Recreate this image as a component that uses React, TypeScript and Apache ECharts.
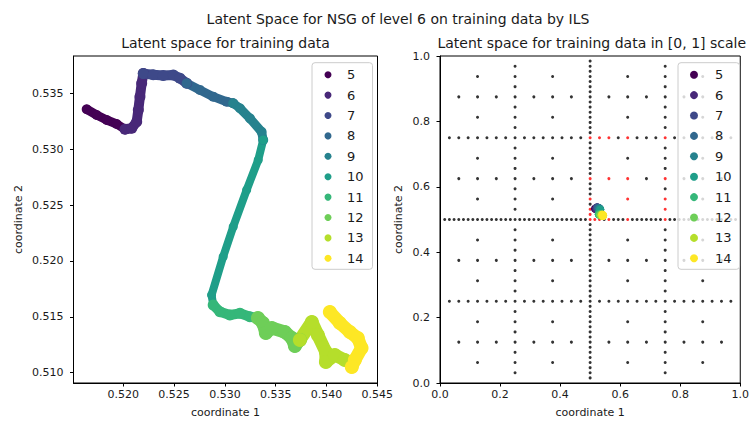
import React, { useEffect, useRef } from "react";
import * as echarts from "echarts";

// ---- data ----
const classLabels = ["5", "6", "7", "8", "9", "10", "11", "12", "13", "14"];
const classColors = ["#440154", "#482878", "#3e4989", "#31688e", "#26828e", "#1f9e89", "#35b779", "#6ece58", "#b5de2b", "#fde725"];

const class5 = [[0.5164, 0.53357], [0.51738, 0.53306], [0.51837, 0.53261], [0.51935, 0.53225], [0.52017, 0.53178]];
const class6 = [[0.52017, 0.53178], [0.52083, 0.53187], [0.52132, 0.53246], [0.52148, 0.53351], [0.52164, 0.5347], [0.52181, 0.53589], [0.52197, 0.53676]];
const class7 = [[0.52197, 0.53676], [0.52295, 0.53666], [0.52393, 0.5366], [0.52492, 0.53664], [0.52558, 0.53634], [0.52624, 0.53589]];
const class8 = [[0.52624, 0.53589], [0.52754, 0.5353], [0.52885, 0.5347], [0.53017, 0.53425], [0.53082, 0.53411]];
const class9 = [[0.53082, 0.53411], [0.53148, 0.53366], [0.53246, 0.53276], [0.53361, 0.53156], [0.53377, 0.53082]];
const class10 = [[0.53377, 0.53082], [0.53328, 0.52903], [0.53214, 0.52635], [0.53082, 0.52306], [0.52983, 0.52038], [0.52869, 0.51695], [0.52885, 0.51606]];
const class11 = [[0.52885, 0.51606], [0.52951, 0.51546], [0.53049, 0.51516], [0.53148, 0.51531], [0.53246, 0.51501], [0.53325, 0.51489]];
const class12 = [[0.53325, 0.51489], [0.53374, 0.51445], [0.53403, 0.51355], [0.53462, 0.514], [0.5359, 0.51364], [0.53659, 0.5131], [0.53689, 0.51239], [0.53738, 0.51293]];
const class13 = [[0.53738, 0.51293], [0.53856, 0.51454], [0.53915, 0.51337], [0.53994, 0.51185], [0.53994, 0.51096], [0.54082, 0.51158], [0.5418, 0.51114]];
const class14 = [[0.54033, 0.51543], [0.54131, 0.51445], [0.5423, 0.51364], [0.54308, 0.5131], [0.54345, 0.51221], [0.54279, 0.51114], [0.54249, 0.51051]];
const classData = [class5, class6, class7, class8, class9, class10, class11, class12, class13, class14];

const leftXTicks = [0.52, 0.525, 0.53, 0.535, 0.54, 0.545];
const leftYTicks = [0.51, 0.515, 0.52, 0.525, 0.53, 0.535];

// sparse grid (level 6): coordinate 1 = odd / xDenoms[i], coordinate 2 = k / yDenoms[i]
const xDenoms = [2, 4, 8, 16, 32, 64];
const yDenoms = [64, 32, 16, 8, 4, 2];
// highlighted (red) coordinates
const highlightCoords = [0.5, 0.515625, 0.53125, 0.5625, 0.625, 0.75];

const FONT = "DejaVu Sans";
const TXT = "#1a1a1a";

function buildGrid() {
  const black: number[][] = [];
  const red: number[][] = [];
  xDenoms.forEach((xd, i) => {
    const yd = yDenoms[i];
    for (let a = 1; a < xd; a += 2) {
      for (let b = 1; b < yd; b++) {
        const p = [a / xd, b / yd];
        if (highlightCoords.includes(p[0]) && highlightCoords.includes(p[1])) red.push(p);
        else black.push(p);
      }
    }
  });
  return { black, red };
}

const widths = [9, 10, 10, 9, 9, 8, 10, 13, 13, 13];

export default function App() {
  const ref = useRef<HTMLDivElement>(null);
  useEffect(() => {
    if (!ref.current) return;
    const chart = echarts.init(ref.current, undefined, { renderer: "svg" });
    const { black, red } = buildGrid();

    const axisCommon = {
      axisLine: { show: true, onZero: false, lineStyle: { color: "#000", width: 1 } },
      axisTick: { show: true, inside: false, length: 3.5, lineStyle: { color: "#000" } },
      splitLine: { show: false },
      nameLocation: "middle",
      nameTextStyle: { fontFamily: FONT, fontSize: 11, color: TXT },
    };

    const legendCommon = {
      orient: "vertical",
      icon: "circle",
      align: "left",
      data: classLabels,
      itemGap: 6.4,
      backgroundColor: "rgba(255,255,255,0.8)",
      borderColor: "#cccccc",
      borderWidth: 1,
      borderRadius: 3,
      selectedMode: false,
      textStyle: { fontFamily: FONT, fontSize: 13, color: TXT, lineHeight: 14 },
    };

    const leftSeries = classData.map((d, i) => ({
      type: "line",
      name: classLabels[i],
      xAxisIndex: 0,
      yAxisIndex: 0,
      data: d,
      symbol: "circle",
      symbolSize: widths[i] + 1,
      showSymbol: true,
      itemStyle: { color: classColors[i] },
      lineStyle: { color: classColors[i], width: widths[i], cap: "round", join: "round" },
      z: 3,
      silent: true,
    }));

    const rightSeries = classData.map((d, i) => ({
      type: "scatter",
      name: classLabels[i],
      xAxisIndex: 1,
      yAxisIndex: 1,
      data: d,
      symbol: "circle",
      symbolSize: 8,
      itemStyle: { color: classColors[i], opacity: 1 },
      z: 4,
      silent: true,
    }));

    chart.setOption({
      animation: false,
      backgroundColor: "#ffffff",
      textStyle: { fontFamily: FONT },
      graphic: [
        { type: "text", x: 398, y: 19, style: { text: "Latent Space for NSG of level 6 on training data by ILS", fontFamily: FONT, fontSize: 14, fill: TXT, align: "center", verticalAlign: "middle" } },
        { type: "text", x: 225.5, y: 43, style: { text: "Latent space for training data", fontFamily: FONT, fontSize: 14, fill: TXT, align: "center", verticalAlign: "middle" } },
        { type: "text", x: 591.75, y: 43, style: { text: "Latent space for training data in [0, 1] scale", fontFamily: FONT, fontSize: 14, fill: TXT, align: "center", verticalAlign: "middle" } },
      ],
      grid: [
        { left: 73.5, top: 56, width: 304, height: 327, show: true, borderColor: "#000", borderWidth: 1, backgroundColor: "transparent", containLabel: false },
        { left: 440, top: 56, width: 303.5, height: 327, show: true, borderColor: "#000", borderWidth: 1, backgroundColor: "transparent", containLabel: false },
      ],
      xAxis: [
        {
          ...axisCommon, type: "value", gridIndex: 0, min: 0.5151, max: 0.54502, name: "coordinate 1", nameGap: 24,
          axisTick: { ...axisCommon.axisTick, customValues: leftXTicks },
          axisLabel: { customValues: leftXTicks, formatter: (v: number) => v.toFixed(3), fontFamily: FONT, fontSize: 11, color: TXT, margin: 6 },
        },
        {
          ...axisCommon, type: "value", gridIndex: 1, min: 0, max: 1, interval: 0.2, name: "coordinate 1", nameGap: 24,
          axisLabel: { formatter: (v: number) => v.toFixed(1), fontFamily: FONT, fontSize: 11, color: TXT, margin: 6, showMinLabel: true, showMaxLabel: true },
        },
      ],
      yAxis: [
        {
          ...axisCommon, type: "value", gridIndex: 0, min: 0.509078, max: 0.538337, name: "coordinate 2", nameGap: 50,
          axisTick: { ...axisCommon.axisTick, customValues: leftYTicks },
          axisLabel: { customValues: leftYTicks, formatter: (v: number) => v.toFixed(3), fontFamily: FONT, fontSize: 11, color: TXT, margin: 10 },
        },
        {
          ...axisCommon, type: "value", gridIndex: 1, min: 0, max: 1, interval: 0.2, name: "coordinate 2", nameGap: 36,
          axisLabel: { formatter: (v: number) => v.toFixed(1), fontFamily: FONT, fontSize: 11, color: TXT, margin: 10, showMinLabel: true, showMaxLabel: true },
        },
      ],
      legend: [
        { ...legendCommon, left: 312, top: 62.7, padding: [5, 9, 4, 12.5], itemWidth: 28, itemHeight: 7 },
        { ...legendCommon, left: 678, top: 62.7, padding: [5, 8, 4, 12], itemWidth: 32, itemHeight: 8 },
      ],
      series: [
        {
          type: "scatter", name: "grid", xAxisIndex: 1, yAxisIndex: 1, data: black, symbol: "circle", symbolSize: 3,
          itemStyle: { color: "#000000" }, z: 2, silent: true,
        },
        {
          type: "scatter", name: "highlight", xAxisIndex: 1, yAxisIndex: 1, data: red, symbol: "circle", symbolSize: 3,
          itemStyle: { color: "#ff0000" }, z: 2, silent: true,
        },
        ...leftSeries,
        ...rightSeries,
      ],
    });
    return () => chart.dispose();
  }, []);
  return <div ref={ref} style={{ position: "absolute", left: 0, top: 0, width: 752, height: 424 }} />;
}
